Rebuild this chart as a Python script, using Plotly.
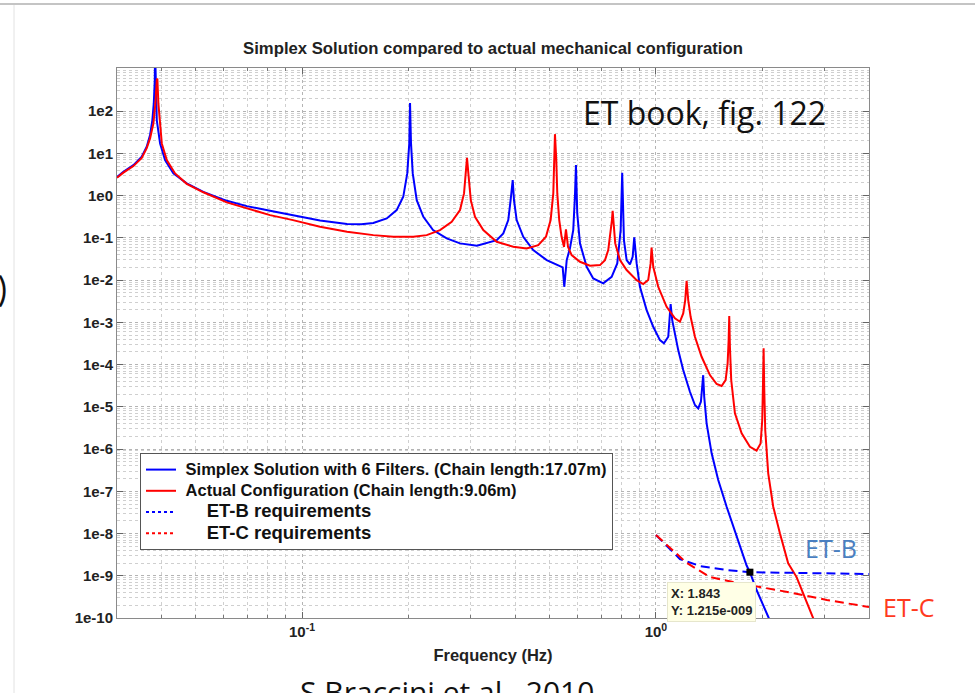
import numpy as np
import plotly.graph_objects as go

# ---------------- data ----------------
title_text = "Simplex Solution compared to actual mechanical configuration"
x_title = "Frequency (Hz)"

series_names = [
    "Simplex Solution with 6 Filters. (Chain length:17.07m)",
    "Actual Configuration (Chain length:9.06m)",
    "ET-B requirements",
    "ET-C requirements",
]

simplex_f = [0.0300, 0.03127, 0.03338, 0.03524, 0.0364, 0.0372, 0.03776, 0.03811,
             0.03836, 0.03843, 0.03886, 0.03971, 0.04102, 0.04329, 0.04722, 0.05261,
             0.0613, 0.0698, 0.0812, 0.0943, 0.1124, 0.134, 0.147, 0.159, 0.1735,
             0.1851, 0.1932, 0.1983, 0.2009, 0.2019, 0.2032, 0.2055, 0.2109,
             0.2202, 0.2345, 0.2563, 0.2795, 0.312, 0.355, 0.3704, 0.3826,
             0.3885, 0.3938, 0.3971, 0.4041, 0.4218, 0.45, 0.4913, 0.5304,
             0.5451, 0.5508, 0.5596, 0.5715, 0.5839, 0.5903, 0.5943, 0.5993,
             0.61, 0.6372, 0.665, 0.7099, 0.7497, 0.7775, 0.7949, 0.8029,
             0.8121, 0.8264, 0.8444, 0.8595, 0.8684, 0.8821, 0.9011, 0.9413,
             0.9826, 1.0264, 1.0534, 1.0834, 1.1004, 1.1118, 1.1316, 1.156,
             1.1942, 1.2475, 1.2888, 1.3166, 1.3399, 1.3514, 1.36, 1.369,
             1.3905, 1.4368, 1.4997, 1.584, 1.6904, 1.804, 1.843, 1.9248,
             2.0763, 2.2]
simplex_v = [2.74, 3.66, 5.27, 8.29, 14.3, 27.0, 61.3, 152,
             542, 3000, 61.3, 17.2, 6.92, 3.35, 1.945, 1.23,
             0.753, 0.564, 0.437, 0.345, 0.258, 0.2135, 0.209, 0.225, 0.2887,
             0.454, 0.937, 3.35, 17.2, 155, 17.2, 3.35, 0.782,
             0.315, 0.1526, 0.097, 0.0739, 0.0649, 0.0885, 0.1274, 0.263,
             0.782, 2.33, 0.782, 0.263, 0.106, 0.0513, 0.02974, 0.02265,
             0.02000, 0.00694, 0.02974, 0.0563, 0.1526, 0.937, 5.27, 0.379,
             0.0739, 0.02065, 0.01097, 0.00835, 0.01197, 0.02485, 0.1526, 3.46,
             0.0885, 0.02974, 0.02353, 0.0356, 0.1025, 0.02485, 0.00694, 0.00195,
             0.000785, 0.00038, 0.000318, 0.000455, 0.0027, 0.00113, 0.000548, 2.2e-4,
             7.41e-5, 2.27e-5, 1.1e-5, 9.19e-6, 1.32e-5, 2.98e-5, 5.6e-5, 1.73e-5,
             4.06e-6, 7.91e-7, 1.85e-7, 4.31e-8, 8.4e-9, 1.75e-9, 1.215e-9, 4.6e-10,
             1.07e-10, 3.5e-11]

actual_f = [0.0300, 0.03127, 0.03338, 0.03524, 0.0364, 0.0372, 0.03802, 0.03851,
            0.03886, 0.03901, 0.03927, 0.03971, 0.04015, 0.04147, 0.04377, 0.04722,
            0.05261, 0.0613, 0.0698, 0.0812, 0.0943, 0.1124, 0.134, 0.159,
            0.1811, 0.2063, 0.2251, 0.2454, 0.2648, 0.2795, 0.2869, 0.2901,
            0.2925, 0.2951, 0.2998, 0.3081, 0.3252, 0.3548, 0.3953, 0.4311,
            0.465, 0.489, 0.504, 0.5128, 0.5162, 0.5184, 0.5229, 0.5263,
            0.533, 0.5413, 0.5498, 0.5569, 0.5643, 0.5778, 0.61, 0.651,
            0.6948, 0.7178, 0.7332, 0.7447, 0.751, 0.7545, 0.7594, 0.7673,
            0.7914, 0.8264, 0.8821, 0.9207, 0.951, 0.966, 0.972, 0.9826,
            1.015, 1.072, 1.1316, 1.1689, 1.1942, 1.21, 1.2209, 1.2338,
            1.2531, 1.2888, 1.3461, 1.4209, 1.4843, 1.5332, 1.5737, 1.5944,
            1.6049, 1.6113, 1.6183, 1.632, 1.6719, 1.7466, 1.8433, 1.9248,
            1.9758, 1.997, 2.006, 2.0151, 2.0227, 2.0363, 2.0763, 2.1451,
            2.2402, 2.3642, 2.4973, 2.607, 2.782, 2.906]
actual_v = [2.65, 3.5, 5.0, 7.8, 13.3, 22.6, 51.2, 152,
            542, 594, 152, 42.5, 17.2, 6.92, 3.35, 1.9,
            1.2, 0.69, 0.4977, 0.345, 0.263, 0.1826, 0.139, 0.116,
            0.106, 0.106, 0.116, 0.1526, 0.24, 0.454, 1.127, 3.35,
            7.85, 3.35, 0.782, 0.315, 0.1526, 0.0806, 0.0614, 0.0563,
            0.0674, 0.106, 0.263, 1.127, 6.9, 28.5, 6.9, 1.127,
            0.263, 0.106, 0.0614, 0.1585, 0.0614, 0.0391, 0.0271, 0.0218,
            0.02265, 0.02974, 0.0513, 0.1274, 0.263, 0.436, 0.1826, 0.0739,
            0.02974, 0.01726, 0.01, 0.00804, 0.01, 0.02485, 0.059, 0.02065,
            0.00694, 0.00233, 0.00124, 0.00103, 0.00163, 0.00336, 0.00962, 0.00336,
            0.001353, 0.000455, 0.000153, 5.64e-5, 3.46e-5, 3.1e-5, 4.3e-5, 1.068e-4,
            3.8e-4, 1.406e-3, 2.64e-4, 4.3e-5, 7.0e-6, 2.35e-6, 1.13e-6, 9.12e-7,
            1.36e-6, 4.86e-6, 2.98e-5, 2.42e-4, 2.98e-5, 2.82e-6, 2.66e-7, 4.31e-8,
            1.01e-8, 1.97e-9, 9.3e-10, 3.84e-10, 1.07e-10, 4e-11]

etb_f = [1.0, 1.0812, 1.1689, 1.3314, 1.5869, 1.843, 2.552, 4.0]
etb_v = [9.2e-9, 4.79e-9, 2.49e-9, 1.70e-9, 1.37e-9, 1.215e-9, 1.16e-9, 1.1e-9]

etc_f = [1.0, 1.0953, 1.2232, 1.4209, 1.650, 1.967, 2.438, 3.041, 4.0]
etc_v = [9.2e-9, 4.54e-9, 2.0e-9, 9.34e-10, 7.11e-10, 5.42e-10, 3.91e-10, 2.67e-10, 1.82e-10]

tip_x = 1.843
tip_y = 1.215e-9
tip_text = "X: 1.843<br>Y: 1.215e-009"

ytick_vals = [1e-10, 1e-9, 1e-8, 1e-7, 1e-6, 1e-5, 1e-4, 1e-3, 1e-2, 1e-1, 1e0, 1e1, 1e2]
ytick_text = ["1e-10", "1e-9", "1e-8", "1e-7", "1e-6", "1e-5", "1e-4", "1e-3",
              "1e-2", "1e-1", "1e0", "1e1", "1e2"]
xtick_vals = [0.1, 1.0]
xtick_text = ["10<sup>-1</sup>", "10<sup>0</sup>"]

x_range = [0.03, 4.0]
y_range = [1e-10, 1.05e3]

assert len(simplex_f) == len(simplex_v)
assert len(actual_f) == len(actual_v)

# ---------------- layout geometry (pixels) ----------------
W, H = 975, 693
L, R, T, B = 117, 106, 68, 75
PW, PH = W - L - R, H - T - B


def px(x):
    return (x - L) / PW


def py(y):
    return (H - B - y) / PH


FONT = "Liberation Sans, Arial, Helvetica, sans-serif"
SLIDE_FONT = "Open Sans, Noto Sans, sans-serif"
BLUE = "#0000ff"
RED = "#ff0000"

fig = go.Figure()

fig.add_trace(go.Scatter(x=simplex_f, y=simplex_v, mode="lines",
                         name="<span style='font-size:16.5px'>&nbsp;%s</span>" % series_names[0],
                         line=dict(color=BLUE, width=2)))
fig.add_trace(go.Scatter(x=actual_f, y=actual_v, mode="lines",
                         name="<span style='font-size:16.5px'>&nbsp;%s</span>" % series_names[1],
                         line=dict(color=RED, width=2)))
fig.add_trace(go.Scatter(x=etb_f, y=etb_v, mode="lines", showlegend=False,
                         line=dict(color=BLUE, width=2, dash="9px,5px")))
fig.add_trace(go.Scatter(x=etc_f, y=etc_v, mode="lines", showlegend=False,
                         line=dict(color=RED, width=2, dash="9px,5px")))
# legend entries (dotted samples, as in the original legend)
big = "<span style='font-size:18.5px'>&nbsp;&nbsp;&nbsp;&nbsp;&nbsp;%s</span>"
fig.add_trace(go.Scatter(x=[None], y=[None], mode="lines", name=big % series_names[2],
                         line=dict(color=BLUE, width=2, dash="dot")))
fig.add_trace(go.Scatter(x=[None], y=[None], mode="lines", name=big % series_names[3],
                         line=dict(color=RED, width=2, dash="dot")))
# data tip marker
fig.add_trace(go.Scatter(x=[tip_x], y=[tip_y], mode="markers", showlegend=False,
                         marker=dict(symbol="square", size=7, color="black")))

minor_y = [k * 10.0 ** e for e in range(-10, 3) for k in range(2, 10)]
minor_x = [k * 10.0 ** e for e in range(-2, 1) for k in range(2, 10)]

grid_major = "#b4b4b4"
grid_minor = "#cfcfcf"

fig.update_xaxes(
    type="log", range=[np.log10(x_range[0]), np.log10(x_range[1])],
    tickmode="array", tickvals=xtick_vals, ticktext=xtick_text,
    ticks="inside", ticklen=6, tickcolor="#666",
    showline=True, linecolor="#8a8a8a", linewidth=1, mirror="ticks",
    showgrid=True, gridcolor=grid_major, griddash="dot", gridwidth=1,
    zeroline=False,
    tickfont=dict(family=FONT, size=15, color="#222", weight="bold"),
    title=dict(text=x_title, font=dict(family=FONT, size=16.5, color="#222", weight="bold"),
               standoff=10),
    minor=dict(tickmode="array", tickvals=minor_x, ticks="inside", ticklen=3,
               tickcolor="#777", showgrid=True, gridcolor=grid_minor, griddash="dot",
               gridwidth=1),
)
fig.update_yaxes(
    type="log", range=[np.log10(y_range[0]), np.log10(y_range[1])],
    tickmode="array", tickvals=ytick_vals, ticktext=ytick_text,
    ticks="inside", ticklen=6, tickcolor="#666",
    showline=True, linecolor="#8a8a8a", linewidth=1, mirror="ticks",
    showgrid=True, gridcolor=grid_major, griddash="dot", gridwidth=1,
    zeroline=False,
    tickfont=dict(family=FONT, size=15, color="#222", weight="bold"),
    minor=dict(tickmode="array", tickvals=minor_y, ticks="",
               showgrid=True, gridcolor=grid_minor, griddash="dot", gridwidth=1),
)

annotations = [
    dict(text="ET book, fig. 122", xref="paper", yref="paper", x=px(581), y=py(113),
         xanchor="left", yanchor="middle", showarrow=False,
         font=dict(family=SLIDE_FONT, size=32, color="#111")),
    dict(text="ET-B", xref="paper", yref="paper", x=px(803), y=py(548),
         xanchor="left", yanchor="middle", showarrow=False,
         font=dict(family=SLIDE_FONT, size=25, color="#4a7fc1")),
    dict(text="ET-C", xref="paper", yref="paper", x=px(881), y=py(607),
         xanchor="left", yanchor="middle", showarrow=False,
         font=dict(family=SLIDE_FONT, size=25, color="#ff3a1e")),
    dict(text="S.Braccini et al., 2010", xref="paper", yref="paper", x=px(447), y=py(691),
         xanchor="center", yanchor="middle", showarrow=False,
         font=dict(family=SLIDE_FONT, size=30, color="#111")),
    dict(text=")", xref="paper", yref="paper", x=px(9), y=py(288),
         xanchor="right", yanchor="middle", showarrow=False,
         font=dict(family="Lato, sans-serif", size=34, color="#111")),
    dict(text=tip_text, xref="x", yref="y", x=np.log10(tip_x), y=np.log10(tip_y),
         xanchor="left", yanchor="top", xshift=-83, yshift=-10, showarrow=False,
         align="left", bgcolor="#ffffe6", bordercolor="#e6e6cc", borderwidth=1,
         borderpad=3,
         font=dict(family=FONT, size=13, color="#222", weight="bold")),
]

shapes = [
    dict(type="line", xref="paper", yref="paper", x0=px(0), x1=px(W), y0=py(4), y1=py(4),
         line=dict(color="#c4c4c4", width=2)),
    dict(type="line", xref="paper", yref="paper", x0=px(14), x1=px(14), y0=py(5), y1=py(H),
         line=dict(color="#e2e2e2", width=1)),
]

fig.update_layout(
    width=W, height=H,
    margin=dict(l=L, r=R, t=T, b=B, autoexpand=False),
    paper_bgcolor="white", plot_bgcolor="white",
    title=dict(text=title_text, x=px((L + W - R) / 2), xref="paper",
               y=1 - 48 / H, yref="container", xanchor="center", yanchor="middle",
               font=dict(family=FONT, size=16.7, color="#222", weight="bold")),
    legend=dict(x=px(140), y=py(453), xanchor="left", yanchor="top",
                bgcolor="white", bordercolor="#555", borderwidth=1,
                font=dict(family=FONT, size=14, color="#111", weight="bold"),
                tracegroupgap=0, itemwidth=30),
    showlegend=True,
    annotations=annotations,
    shapes=shapes,
)

fig.write_html("out.html")
